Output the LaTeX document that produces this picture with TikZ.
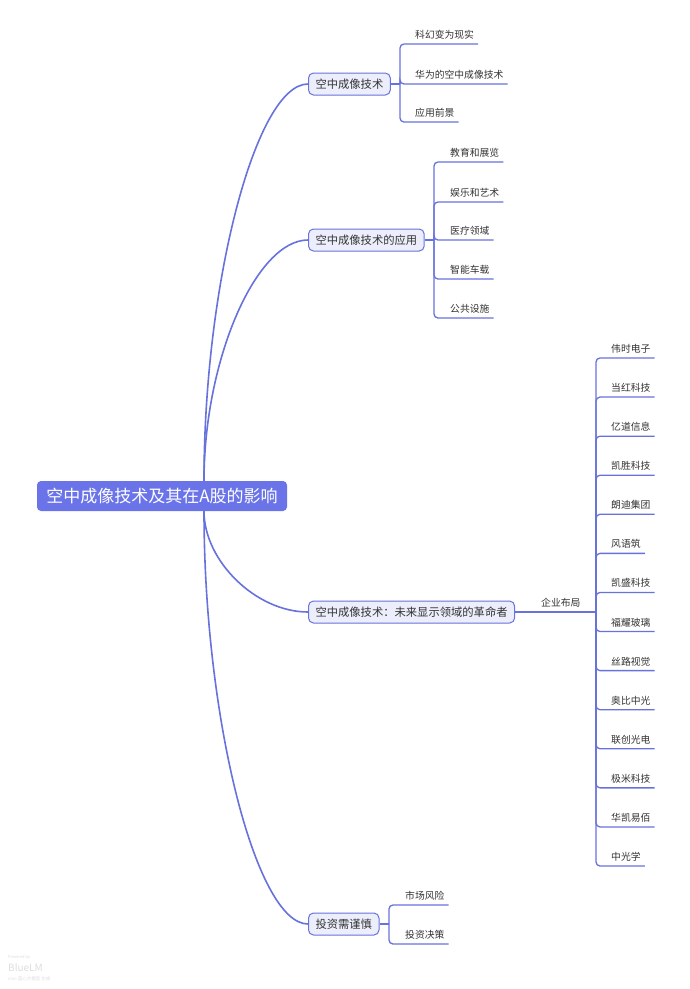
\documentclass[tikz,border=0pt]{standalone}
\usepackage{fontspec}
\setmainfont{Noto Sans CJK SC}
\usetikzlibrary{calc}
\definecolor{lc}{RGB}{104,114,220}
\definecolor{rootc}{RGB}{106,116,232}
\definecolor{lav}{RGB}{236,238,252}
\definecolor{txt}{RGB}{51,51,51}
\definecolor{wm}{RGB}{222,222,226}
\begin{document}
\begin{tikzpicture}[x=1pt,y=-1pt,
  mainln/.style={draw=lc,line width=1.6pt},
  brln/.style={draw=lc,line width=1.3pt,rounded corners=4pt},
  rootbox/.style={fill=rootc,rounded corners=4pt,text=white,font=\fontsize{17}{17}\selectfont,minimum width=250pt,minimum height=30pt,inner sep=0pt},
  topicbox/.style={draw=lc,fill=lav,line width=1pt,rounded corners=5pt,text=txt,font=\fontsize{11.3}{11.3}\selectfont,minimum height=22pt,inner xsep=7pt,inner ysep=0pt,anchor=west},
  leaf/.style={text=txt,font=\fontsize{9.8}{9.8}\selectfont,inner sep=0pt,anchor=south west},
  wmark/.style={text=wm,inner sep=0pt,anchor=west}]
\useasboundingbox (0,0) rectangle (690,989);
\fill[white] (0,0) rectangle (690,989);

% root
\node[rootbox] (root) at (162,496) {空中成像技术及其在A股的影响};
\coordinate (rt) at ([xshift=42pt]root.north);
\coordinate (rb) at ([xshift=42pt]root.south);

% level 1
\node[topicbox] (n1) at (308,84) {空中成像技术};
\node[topicbox] (n2) at (308,240) {空中成像技术的应用};
\node[topicbox] (n3) at (308,612) {空中成像技术：未来显示领域的革命者};
\node[topicbox] (n4) at (308,924) {投资需谨慎};

\draw[mainln] (rt) .. controls (204,283) and (256,84) .. (n1.west);
\draw[mainln] (rt) .. controls (204,360) and (256,240) .. (n2.west);
\draw[mainln] (rb) .. controls (204,561) and (256,612) .. (n3.west);
\draw[mainln] (rb) .. controls (204,718) and (256,924) .. (n4.west);

% branch 1
\coordinate (s1) at (400,84);
\node[leaf] (a1) at (415,39.5) {科幻变为现实};
\node[leaf] (a2) at (415,79.5) {华为的空中成像技术};
\node[leaf] (a3) at (415,117.5) {应用前景};
\draw[brln] (n1.east) -- (s1);
\foreach \i in {1,2,3} \draw[brln] (s1) |- ([shift={(4pt,-4.5pt)}]a\i.south east);

% branch 2
\coordinate (s2) at (434,240);
\node[leaf] (b1) at (450,157.5) {教育和展览};
\node[leaf] (b2) at (450,197.5) {娱乐和艺术};
\node[leaf] (b3) at (450,235.5) {医疗领域};
\node[leaf] (b4) at (450,274.5) {智能车载};
\node[leaf] (b5) at (450,313.5) {公共设施};
\draw[brln] (n2.east) -- (s2);
\foreach \i in {1,...,5} \draw[brln] (s2) |- ([shift={(4pt,-4.5pt)}]b\i.south east);

% branch 3
\coordinate (s3) at (596,612);
\node[leaf] (qy) at (541,607.5) {企业布局};
\draw[brln] (n3.east) -- (s3);
\foreach \name [count=\i from 0] in {伟时电子,当红科技,亿道信息,凯胜科技,朗迪集团,风语筑,凯盛科技,福耀玻璃,丝路视觉,奥比中光,联创光电,极米科技,华凯易佰,中光学}{
  \pgfmathsetmacro{\yy}{358+39.077*\i-4.5}
  \node[leaf] (c\i) at (611,\yy) {\name};
  \draw[brln] (s3) |- ([shift={(4pt,-4.5pt)}]c\i.south east);
}

% branch 4
\coordinate (s4) at (389,924);
\node[leaf] (d1) at (405,900.5) {市场风险};
\node[leaf] (d2) at (405,939.5) {投资决策};
\draw[brln] (n4.east) -- (s4);
\foreach \i in {1,2} \draw[brln] (s4) |- ([shift={(4pt,-4.5pt)}]d\i.south east);

% watermark
\node[wmark,font=\fontsize{4}{4}\selectfont] (w1) at (8,957) {Powered by};
\node[wmark,font=\fontsize{10}{10}\selectfont] (w2) at (8,968) {BlueLM};
\node[wmark,font=\fontsize{4.5}{4.5}\selectfont] (w3) at (8,979) {vivo 蓝心大模型 生成};
\end{tikzpicture}
\end{document}
